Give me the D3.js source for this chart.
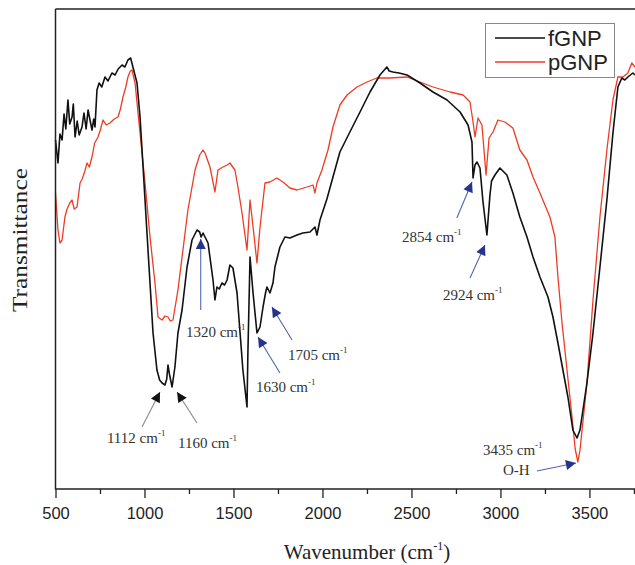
<!DOCTYPE html>
<html>
<head>
<meta charset="utf-8">
<script src="https://cdn.jsdelivr.net/npm/d3@7"></script>
<style>
  body { margin: 0; background: #fff; }
  svg { display: block; }
</style>
</head>
<body>
<script>
// Step 1: data (wavenumber cm-1, transmittance a.u.)
var fGNP = [
  [500,34.9],[514,32.6],[525,35.5],[537,34.9],[548,37.5],[558,36.0],[570,38.9],[580,36.5],[593,37.2],
  [600,38.5],[610,35.2],[622,36.8],[633,35.4],[649,36.2],[660,37.6],[672,36.0],[683,37.9],[695,36.8],
  [705,35.9],[715,37.0],[722,36.2],[733,39.9],[745,40.6],[760,40.2],[778,41.2],[795,40.8],[817,41.6],
  [835,41.4],[852,42.0],[874,42.4],[890,42.2],[907,42.9],[922,43.1],[935,42.2],[958,40.6],[975,37.2],
  [992,32.2],[1014,25.6],[1031,20.6],[1048,15.6],[1070,11.9],[1085,10.9],[1099,10.6],[1115,10.4],
  [1125,11.0],[1132,12.4],[1140,11.5],[1155,10.2],[1171,12.2],[1188,15.6],[1211,17.9],[1239,22.2],
  [1267,24.9],[1295,25.9],[1310,25.7],[1318,25.2],[1329,25.6],[1357,24.6],[1385,20.9],[1396,18.9],
  [1407,20.2],[1420,20.0],[1435,20.6],[1450,20.4],[1464,20.9],[1480,22.4],[1497,22.1],[1520,19.6],
  [1537,15.6],[1553,11.9],[1576,8.2],[1581,13.6],[1593,23.2],[1610,19.6],[1632,15.6],[1649,16.2],
  [1666,18.2],[1680,19.6],[1688,20.2],[1705,19.6],[1722,20.6],[1733,22.2],[1761,24.2],[1789,25.2],
  [1817,25.1],[1857,25.4],[1890,25.6],[1930,25.7],[1958,26.2],[1969,25.4],[1986,26.9],[2025,29.0],
  [2059,31.2],[2098,33.7],[2154,35.7],[2211,37.7],[2267,39.7],[2323,41.4],[2362,42.2],[2375,41.8],
  [2396,41.7],[2430,41.6],[2475,41.4],[2548,40.6],[2621,39.7],[2700,38.9],[2773,37.7],[2818,36.4],
  [2840,34.7],[2846,31.1],[2857,32.4],[2868,32.7],[2885,32.1],[2902,28.7],[2924,25.4],[2941,29.4],
  [2950,30.8],[2969,31.4],[2997,32.1],[3036,31.4],[3070,29.6],[3109,27.2],[3149,25.2],[3183,23.2],
  [3222,21.2],[3267,19.2],[3295,17.2],[3323,14.6],[3351,11.9],[3379,9.2],[3407,5.9],[3430,5.1],
  [3447,5.9],[3486,10.6],[3520,15.6],[3559,22.2],[3598,28.9],[3632,35.6],[3660,40.2],[3682,41.1],
  [3699,40.9],[3716,41.2],[3744,41.6],[3756,41.4]
];

var pGNP = [
  [500,29.6],[514,25.9],[525,24.6],[537,24.9],[553,27.2],[565,28.0],[580,28.6],[593,28.9],[605,28.0],
  [621,28.2],[638,30.6],[650,31.0],[665,31.8],[677,32.6],[690,32.2],[705,33.2],[720,34.6],[739,35.2],
  [750,35.8],[767,36.9],[785,36.4],[806,36.6],[830,37.0],[851,37.2],[865,38.0],[879,39.2],[895,40.2],
  [907,41.2],[920,41.8],[930,41.9],[947,40.6],[975,35.6],[1003,30.6],[1031,25.2],[1059,20.6],
  [1076,17.2],[1090,17.0],[1099,16.9],[1115,17.3],[1132,17.2],[1145,16.8],[1160,16.9],[1188,19.9],
  [1216,23.9],[1244,27.9],[1284,31.9],[1310,33.4],[1329,33.9],[1340,33.6],[1368,32.2],[1396,29.7],
  [1413,31.9],[1441,32.2],[1465,32.4],[1480,32.6],[1508,31.9],[1525,30.2],[1548,27.6],[1576,23.9],
  [1593,28.9],[1610,26.2],[1632,22.6],[1649,26.2],[1677,30.6],[1705,30.7],[1744,31.1],[1778,30.7],
  [1817,30.1],[1857,29.9],[1913,30.2],[1947,30.4],[1958,29.6],[1969,30.6],[1997,31.9],[2031,33.9],
  [2059,36.2],[2098,38.4],[2138,39.4],[2194,40.2],[2250,40.7],[2306,41.1],[2379,41.1],[2475,41.2],
  [2548,40.7],[2621,40.2],[2717,39.7],[2790,39.4],[2829,38.7],[2846,36.7],[2857,35.2],[2874,37.1],
  [2896,36.4],[2919,31.4],[2936,35.1],[2958,35.7],[2986,36.9],[3025,36.7],[3070,36.1],[3109,33.9],
  [3149,32.9],[3183,31.2],[3222,29.6],[3278,27.2],[3306,25.2],[3323,21.2],[3346,16.6],[3374,11.9],
  [3402,7.2],[3420,4.0],[3435,2.7],[3447,3.9],[3486,10.6],[3520,18.9],[3559,27.2],[3598,33.9],
  [3632,38.9],[3660,41.2],[3688,41.2],[3716,41.6],[3738,42.6],[3756,42.2]
];

var xTicks = [500, 1000, 1500, 2000, 2500, 3000, 3500];
var xMinorTicks = [750, 1250, 1750, 2250, 2750, 3250, 3750];
var seriesNames = ["fGNP", "pGNP"];

// peak labels: text anchor, arrow tail, arrow tip (all wavenumber / transmittance)
var peaks = [
  {label: "1112", text: [789, 4.6],  tail: [986, 6.2],   tip: [1087, 9.7],  dark: true},
  {label: "1160", text: [1188, 4.1], tail: [1295, 6.6],  tip: [1183, 9.7],  dark: true},
  {label: "1320", text: [1233, 15.2], tail: [1316, 17.9], tip: [1316, 25.0]},
  {label: "1630", text: [1626, 9.7], tail: [1761, 11.6], tip: [1638, 15.2]},
  {label: "1705", text: [1806, 12.9], tail: [1829, 14.9], tip: [1716, 18.2]},
  {label: "2854", text: [2447, 24.7], tail: [2755, 27.1], tip: [2840, 30.7]},
  {label: "2924", text: [2677, 18.9], tail: [2829, 21.1], tip: [2913, 24.4]},
  {label: "3435", text: [2902, 3.4], tail: [3205, 1.8],  tip: [3424, 2.6]}
];

// Step 2: chart frame
var width = 635, height = 565;
var svg = d3.select("body").append("svg")
  .attr("width", width)
  .attr("height", height);

var xScale = d3.scaleLinear().domain([500, 3756]).range([55.5, 635]);
var yScale = d3.scaleLinear().domain([0, 48]).range([489, 9]);

var serif = "'Liberation Serif', 'Times New Roman', serif";
var sans = "'Liberation Sans', Arial, sans-serif";

// Step 3: the two spectra
var line = d3.line()
  .x(function(d) { return xScale(d[0]); })
  .y(function(d) { return yScale(d[1]); });

svg.append("path").datum(pGNP)
  .attr("d", line)
  .attr("fill", "none")
  .attr("stroke", "#ef3b24")
  .attr("stroke-width", 1.3)
  .attr("stroke-linejoin", "round");

svg.append("path").datum(fGNP)
  .attr("d", line)
  .attr("fill", "none")
  .attr("stroke", "#111")
  .attr("stroke-width", 1.6)
  .attr("stroke-linejoin", "round");

// Step 4: axes
var xAxis = d3.axisBottom(xScale).tickValues(xTicks).tickSize(9).tickFormat(d3.format("d"));
var gx = svg.append("g").attr("transform", "translate(0," + yScale(0) + ")").call(xAxis);
gx.select(".domain").remove();
gx.selectAll("line").attr("stroke", "#222").attr("stroke-width", 1.3);
gx.selectAll("text")
  .attr("font-family", sans)
  .attr("font-size", 16.5)
  .attr("fill", "#222")
  .attr("dy", "1.1em");

var gxm = svg.append("g").attr("transform", "translate(0," + yScale(0) + ")")
  .call(d3.axisBottom(xScale).tickValues(xMinorTicks).tickSize(5).tickFormat(""));
gxm.select(".domain").remove();
gxm.selectAll("line").attr("stroke", "#222").attr("stroke-width", 1.3);

// frame lines: left, bottom, top
svg.append("path")
  .attr("d", "M" + xScale(500) + "," + yScale(48) + "V" + yScale(0) + "H" + width)
  .attr("fill", "none").attr("stroke", "#222").attr("stroke-width", 1.5);
svg.append("line")
  .attr("x1", xScale(500)).attr("x2", width)
  .attr("y1", yScale(48)).attr("y2", yScale(48))
  .attr("stroke", "#222").attr("stroke-width", 1.5);

// axis titles
var xt = svg.append("text")
  .attr("x", 367).attr("y", 559)
  .attr("text-anchor", "middle")
  .attr("font-family", serif)
  .attr("font-size", 21)
  .attr("fill", "#222");
xt.append("tspan").text("Wavenumber (cm");
xt.append("tspan").attr("dy", -9).attr("font-size", 12).text("-1");
xt.append("tspan").attr("dy", 9).text(")");

svg.append("text")
  .attr("transform", "translate(27,240) rotate(-90)")
  .attr("text-anchor", "middle")
  .attr("font-family", serif)
  .attr("font-size", 22)
  .attr("fill", "#222")
  .attr("textLength", 144)
  .attr("lengthAdjust", "spacingAndGlyphs")
  .text("Transmittance");

// Step 5: peak annotations
var defs = svg.append("defs");
function marker(id, color) {
  defs.append("marker")
    .attr("id", id)
    .attr("viewBox", "0 0 10 10")
    .attr("refX", 10).attr("refY", 5)
    .attr("markerUnits", "userSpaceOnUse")
    .attr("markerWidth", 13).attr("markerHeight", 10)
    .attr("orient", "auto")
    .append("path").attr("d", "M0,0L10,5L0,10Z").attr("fill", color);
}
marker("headBlue", "#27348b");
marker("headDark", "#111");

var ann = svg.append("g");
ann.selectAll("line")
  .data(peaks)
  .enter()
  .append("line")
  .attr("x1", function(d) { return xScale(d.tail[0]); })
  .attr("y1", function(d) { return yScale(d.tail[1]); })
  .attr("x2", function(d) { return xScale(d.tip[0]); })
  .attr("y2", function(d) { return yScale(d.tip[1]); })
  .attr("stroke", function(d) { return d.dark ? "#888" : "#5563aa"; })
  .attr("stroke-width", 1.1)
  .attr("marker-end", function(d) { return d.dark ? "url(#headDark)" : "url(#headBlue)"; });

var labels = ann.selectAll("text")
  .data(peaks)
  .enter()
  .append("text")
  .attr("x", function(d) { return xScale(d.text[0]); })
  .attr("y", function(d) { return yScale(d.text[1]); })
  .attr("font-family", serif)
  .attr("font-size", 15)
  .attr("fill", "#333");
labels.append("tspan").text(function(d) { return d.label + " cm"; });
labels.append("tspan").attr("dy", -7).attr("font-size", 9).text("-1");

ann.append("text")
  .attr("x", xScale(3014)).attr("y", yScale(1.4))
  .attr("font-family", serif)
  .attr("font-size", 15)
  .attr("fill", "#333")
  .text("O-H");

// Step 6: legend
var legend = svg.append("g");
legend.append("rect")
  .attr("x", 485.5).attr("y", 23.5)
  .attr("width", 129).attr("height", 54)
  .attr("fill", "#fff")
  .attr("stroke", "#888")
  .attr("stroke-width", 1);

var legendColors = ["#111", "#ef3b24"];
seriesNames.forEach(function(name, i) {
  var yy = 38 + i * 24;
  legend.append("line")
    .attr("x1", 495).attr("x2", 545)
    .attr("y1", yy).attr("y2", yy)
    .attr("stroke", legendColors[i])
    .attr("stroke-width", i === 0 ? 1.6 : 1.3);
  legend.append("text")
    .attr("x", 548).attr("y", yy + 8)
    .attr("font-family", sans)
    .attr("font-size", 22)
    .attr("fill", "#222")
    .text(name);
});
</script>
</body>
</html>
